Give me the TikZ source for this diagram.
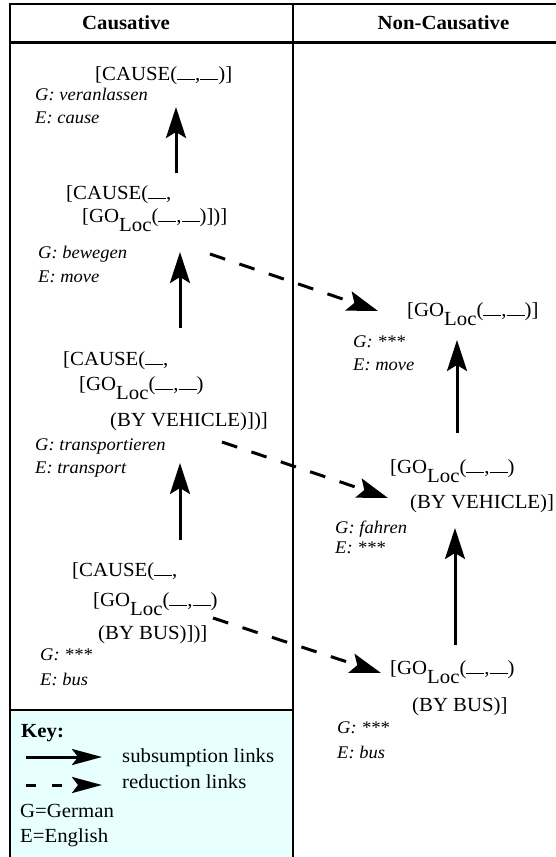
\documentclass[tikz,border=0pt]{standalone}
\usepackage{fontspec}
\setmainfont{Liberation Serif}[FakeStretch=1.04]
\usetikzlibrary{arrows.meta}
\definecolor{keyfill}{RGB}{232,255,255}
\newcommand\bk{\rule[0.3pt]{18pt}{0.9pt}}
\newcommand\goloc{GO\raisebox{-9pt}{Loc}}
\begin{document}
\begin{tikzpicture}[x=1pt,y=-1pt,
  main/.style={anchor=base west, inner sep=0pt, font=\fontsize{20}{22}\selectfont},
  lab/.style={anchor=base west, inner sep=0pt, font=\fontsize{17.8}{19}\selectfont\itshape},
  keytext/.style={anchor=base west, inner sep=0pt, font=\fontsize{20}{22}\selectfont},
  hd/.style={anchor=base, inner sep=0pt, font=\fontsize{20}{22}\selectfont\bfseries},
  tabline/.style={line width=2.6pt},
  sublink/.style={-{Stealth[length=31pt,width=20pt,inset=6pt]}, line width=3pt},
  redlink/.style={sublink, dash pattern=on 16pt off 15pt},
  keysub/.style={-{Stealth[length=30pt,width=16pt,inset=6pt]}, line width=3pt},
  keyred/.style={keysub, dash pattern=on 10pt off 16pt},
]
\useasboundingbox (0,0) rectangle (556,857);
% key box background
\fill[keyfill] (10,710) rectangle (293,857);
% table lines
\draw[tabline] (10,857) -- (10,4) -- (556,4);
\draw[tabline] (10,42.7) -- (556,42.7);
\draw[tabline] (293,4) -- (293,857);
\draw[tabline] (10,710) -- (293,710);
% headers
\node[hd] (hc) at (126,29) {Causative};
\node[hd] (hn) at (443.5,29) {Non-Causative};

% causative column
\node[main] (c1) at (95,80) {[CAUSE(\bk,\bk)]};
\node[lab] (c1g) at (35,100) {G: veranlassen};
\node[lab] (c1e) at (35,123) {E: cause};

\node[main] (c2a) at (66,199) {[CAUSE(\bk,};
\node[main] (c2b) at (82,222) {[\goloc(\bk,\bk)])]};
\node[lab] (c2g) at (38,258) {G: bewegen};
\node[lab] (c2e) at (38,282) {E: move};

\node[main] (c3a) at (63,365) {[CAUSE(\bk,};
\node[main] (c3b) at (79,390) {[\goloc(\bk,\bk)};
\node[main] (c3c) at (110,426) {(BY VEHICLE)])]};
\node[lab] (c3g) at (35,450) {G: transportieren};
\node[lab] (c3e) at (35,473) {E: transport};

\node[main] (c4a) at (72,576) {[CAUSE(\bk,};
\node[main] (c4b) at (93,606) {[\goloc(\bk,\bk)};
\node[main] (c4c) at (98,639) {(BY BUS)])]};
\node[lab] (c4g) at (40,660) {G: ***};
\node[lab] (c4e) at (40,685) {E: bus};

% non-causative column
\node[main] (n1) at (407,316) {[\goloc(\bk,\bk)]};
\node[lab] (n1g) at (353,347) {G: ***};
\node[lab] (n1e) at (353,370) {E: move};

\node[main] (n2a) at (390,473) {[\goloc(\bk,\bk)};
\node[main] (n2b) at (410,508) {(BY VEHICLE)]};
\node[lab] (n2g) at (335,533) {G: fahren};
\node[lab] (n2e) at (335,553) {E: ***};

\node[main] (n3a) at (390,674) {[\goloc(\bk,\bk)};
\node[main] (n3b) at (412,711) {(BY BUS)]};
\node[lab] (n3g) at (337,733) {G: ***};
\node[lab] (n3e) at (337,758) {E: bus};

% link end points
\coordinate (s1b) at (176,173); \coordinate (s1t) at (176,107);
\coordinate (s2b) at (180,328); \coordinate (s2t) at (180,252);
\coordinate (s3b) at (180,540); \coordinate (s3t) at (180,463);
\coordinate (s4b) at (457,433); \coordinate (s4t) at (457,340);
\coordinate (s5b) at (455,645); \coordinate (s5t) at (455,528);
\coordinate (r1s) at (210,254); \coordinate (r1t) at (378,311);
\coordinate (r2s) at (222,442); \coordinate (r2t) at (388,498);
\coordinate (r3s) at (213,618); \coordinate (r3t) at (381,673);

\draw[sublink] (s1b) -- (s1t);
\draw[sublink] (s2b) -- (s2t);
\draw[sublink] (s3b) -- (s3t);
\draw[sublink] (s4b) -- (s4t);
\draw[sublink] (s5b) -- (s5t);
\draw[redlink] (r1s) -- (r1t);
\draw[redlink] (r2s) -- (r2t);
\draw[redlink] (r3s) -- (r3t);

% key
\node[anchor=base west, inner sep=0pt, font=\fontsize{20}{22}\selectfont\bfseries] (key) at (21,737) {Key:};
\coordinate (k1s) at (26,757); \coordinate (k1t) at (102,757);
\coordinate (k2s) at (26,785); \coordinate (k2t) at (102,785);
\draw[keysub] (k1s) -- (k1t);
\draw[keyred] (k2s) -- (k2t);
\node[keytext] (ksub) at (122,762) {subsumption links};
\node[keytext] (kred) at (122,788) {reduction links};
\node[keytext] (kg) at (20,817) {G=German};
\node[keytext] (ke) at (20,842) {E=English};
\end{tikzpicture}
\end{document}
